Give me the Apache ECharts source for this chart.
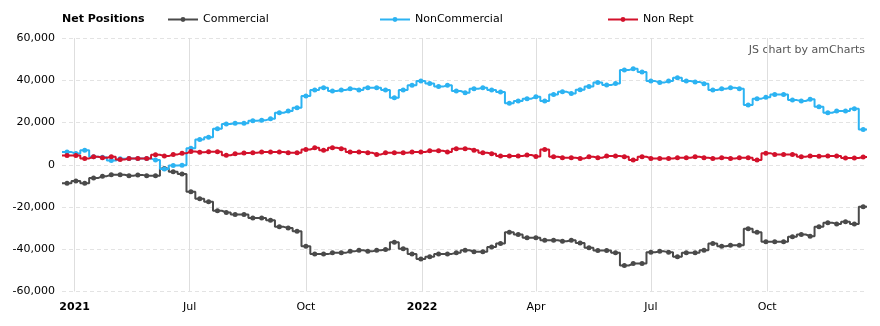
<!DOCTYPE html>
<html><head><meta charset="utf-8">
<script src="https://cdn.jsdelivr.net/npm/echarts@6/dist/echarts.min.js"></script>
<style>html,body{margin:0;padding:0;background:#fff}#c{width:880px;height:326px}</style>
</head><body><div id="c"></div>
<script>
// Weekly report dates start here (one value per week)
const firstWeek = '2021-03-26';
const axisStart = '2021-03-22';
const axisEnd = '2022-12-19';

const commercial = [
  -8800,-7700,-8800,-6300,-5400,-4700,-4700,-5200,-4800,-5200,
  -5200,-1800,-3300,-4400,-12800,-16100,-17500,-21800,-22600,-23600,
  -23600,-25200,-25200,-26300,-29400,-29900,-31500,-38600,-42300,-42300,
  -41700,-41700,-41000,-40500,-41000,-40500,-40100,-36700,-39800,-42200,
  -44600,-43600,-42200,-42200,-41700,-40500,-41200,-41200,-38900,-37300,
  -31900,-33000,-34600,-34600,-35700,-35700,-36200,-35700,-37000,-39300,
  -40600,-40600,-41700,-47700,-46800,-46800,-41400,-41000,-41400,-43600,
  -41700,-41700,-40500,-37300,-38600,-38100,-38100,-30300,-31900,-36500,
  -36500,-36500,-34100,-33000,-33800,-29400,-27500,-28000,-27000,-28000,
  -19900
];
const nonCommercial = [
  6000,5300,6900,3800,3500,2000,2800,2900,2900,2900,
  2200,-2000,-300,-200,7800,12000,13000,17000,19300,19700,
  19700,20800,21100,21800,24600,25400,27000,32500,35400,36500,
  34900,35400,36000,35400,36500,36500,35400,31700,35400,37600,
  39600,38500,37000,37600,34900,34100,36000,36500,35400,34400,
  29100,30200,31300,32200,30200,33300,34500,33700,35500,37000,
  38900,37700,38500,44800,45500,43900,39600,38900,39600,41200,
  39600,39200,38400,35400,36000,36500,36000,28300,31300,32000,
  33300,33300,30600,30200,31000,27500,24600,25400,25400,26500,
  16700
];
const nonRept = [
  4400,4400,3000,3800,3300,3800,2500,3000,3000,3000,
  4700,4100,4900,5400,6300,5900,6100,6100,4500,5200,
  5600,5700,6000,6000,6000,5700,5700,7200,8000,6900,
  8000,7600,6000,6000,5700,4900,5700,5700,5700,6000,
  6000,6600,6600,6000,7600,7600,6900,5700,5200,4100,
  4100,4100,4600,3900,7200,3800,3300,3300,3000,3800,
  3300,4100,4100,3800,2200,3800,3000,3000,3000,3300,
  3300,3800,3300,3000,3300,3000,3300,3300,2200,5500,
  4800,4800,4800,3800,4200,4000,4200,4200,3200,3200,
  3700
];

const seriesNames = ['Commercial', 'NonCommercial', 'Non Rept'];
const seriesColors = ['#4a4a4a', '#2cb3f2', '#d3112b'];

const tickDates = ['2021-04-01','2021-07-01','2021-10-01','2022-01-01','2022-04-01','2022-07-01','2022-10-01'];
const tickLabels = ['2021','Jul','Oct','2022','Apr','Jul','Oct'];
const boldTicks = ['2021','2022'];

const yMin = -60000, yMax = 60000, yStep = 20000;

function ms(s){ const p = s.split('-').map(Number); return Date.UTC(p[0], p[1]-1, p[2]); }
const DAY = 86400000;
const t0 = ms(firstWeek);
const xMin = ms(axisStart), xMax = ms(axisEnd);
const tickTimes = tickDates.map(ms);

function build(vals){
  const pts = vals.map((v,i) => [t0 + i*7*DAY, v]);
  return [{value:[xMin, vals[0]], symbol:'none'}].concat(pts, [{value:[xMax, vals[vals.length-1]], symbol:'none'}]);
}

const FONT = 'DejaVu Sans';
const chart = echarts.init(document.getElementById('c'), null, {renderer:'canvas'});
const allVals = [commercial, nonCommercial, nonRept];

chart.setOption({
  animation: false,
  backgroundColor: '#fff',
  title: {
    text: 'Net Positions', left: 62, top: 14, padding: 0,
    textStyle: {fontFamily: FONT, fontSize: 11, fontWeight: 'bold', color: '#000'}
  },
  legend: seriesNames.map((n, i) => ({
    data: [n], left: [167, 379, 607][i], top: 14, padding: 0,
    itemWidth: 30, itemHeight: 6, itemGap: 0,
    textStyle: {fontFamily: FONT, fontSize: 11, color: '#000'},
    selectedMode: false
  })),
  graphic: [{
    type: 'text', right: 15, top: 45,
    style: {text: 'JS chart by amCharts', font: '11px "DejaVu Sans"', fill: '#555'}
  }],
  grid: {left: 62, right: 13, top: 38, bottom: 34.5, containLabel: false},
  xAxis: {
    type: 'value', min: xMin, max: xMax, scale: true,
    axisLine: {show: false},
    axisTick: {show: false, customValues: tickTimes},
    splitLine: {show: true, lineStyle: {color: '#dedede', width: 1, type: 'solid'}},
    axisLabel: {
      customValues: tickTimes,
      margin: 10,
      fontFamily: FONT, fontSize: 11, color: '#000',
      formatter: function(v){
        let idx = 0, best = Infinity;
        tickTimes.forEach((t, i) => { const d = Math.abs(t - v); if (d < best) { best = d; idx = i; } });
        const lab = tickLabels[idx];
        return boldTicks.indexOf(lab) >= 0 ? '{b|' + lab + '}' : lab;
      },
      rich: {b: {fontFamily: FONT, fontSize: 11, fontWeight: 'bold', color: '#000'}}
    }
  },
  yAxis: {
    type: 'value', min: yMin, max: yMax, interval: yStep,
    axisLine: {show: false}, axisTick: {show: false},
    splitLine: {show: true, lineStyle: {color: '#e3e3e3', width: 1, type: [4, 3]}},
    axisLabel: {
      margin: 7, fontFamily: FONT, fontSize: 11, color: '#000',
      formatter: v => v.toLocaleString('en-US')
    }
  },
  series: seriesNames.map((n, i) => ({
    name: n, type: 'line', step: 'middle',
    data: build(allVals[i]),
    symbol: 'circle', symbolSize: 5, showSymbol: true, showAllSymbol: true,
    lineStyle: {color: seriesColors[i], width: 2},
    itemStyle: {color: seriesColors[i]},
    emphasis: {disabled: true},
    z: 2 + i
  }))
});
</script></body></html>
